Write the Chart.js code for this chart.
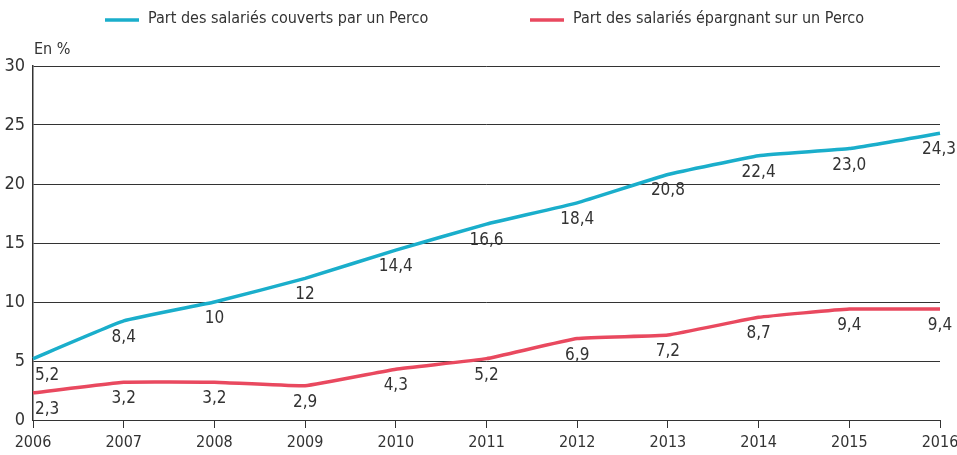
<!DOCTYPE html>
<html>

<head>
    <meta charset="UTF-8">
    <title>Perco</title>
    <script src="https://cdn.jsdelivr.net/npm/chart.js@4.4.1/dist/chart.umd.min.js"></script>
    <style>
        html, body {
            margin: 0;
            padding: 0;
            background: #fff;
        }

        #wrap {
            width: 957px;
            height: 455px;
        }
    </style>
</head>

<body>
    <div id="wrap"><canvas id="lineChart"></canvas></div>

    <script>
        const years = ["2006", "2007", "2008", "2009", "2010", "2011", "2012", "2013", "2014", "2015", "2016"];
        // value labels as printed; the plotted values are read from them
        const couvertsText = ["5,2", "8,4", "10", "12", "14,4", "16,6", "18,4", "20,8", "22,4", "23,0", "24,3"];
        const epargnantText = ["2,3", "3,2", "3,2", "2,9", "4,3", "5,2", "6,9", "7,2", "8,7", "9,4", "9,4"];
        const seriesNames = ["Part des salariés couverts par un Perco", "Part des salariés épargnant sur un Perco"];
        const yTicks = [0, 5, 10, 15, 20, 25, 30];

        const toNum = t => parseFloat(t.replace(",", "."));
        const couverts = couvertsText.map(toNum);
        const epargnant = epargnantText.map(toNum);

        const FONT = "'Liberation Sans Narrow', 'DejaVu Sans Condensed', 'Arial Narrow', sans-serif";
        const INK = "#333";
        const BLUE = "#1aaecb";
        const RED = "#e9495f";

        Chart.defaults.font.family = FONT;
        Chart.defaults.color = INK;

        // legend + "En %" + value labels
        const decor = {
            id: "decor",
            afterDraw(chart) {
                const ctx = chart.ctx;
                const area = chart.chartArea;
                ctx.save();
                ctx.font = "16px " + FONT;
                ctx.fillStyle = INK;
                ctx.textBaseline = "middle";
                const legendX = [105, 530];
                const colors = [BLUE, RED];
                legendX.forEach((x, i) => {
                    ctx.strokeStyle = colors[i];
                    ctx.lineWidth = 3.5;
                    ctx.beginPath();
                    ctx.moveTo(x, 20);
                    ctx.lineTo(x + 34, 20);
                    ctx.stroke();
                    ctx.textAlign = "left";
                    ctx.fillText(seriesNames[i], x + 43, 19);
                });
                ctx.font = "16px " + FONT;
                ctx.fillText("En %", area.left + 1, 50);

                ctx.font = "17px " + FONT;
                ctx.textBaseline = "top";
                ctx.textAlign = "center";
                const texts = [couvertsText, epargnantText];
                chart.data.datasets.forEach((ds, d) => {
                    const meta = chart.getDatasetMeta(d);
                    meta.data.forEach((pt, i) => {
                        const t = texts[d][i];
                        const half = ctx.measureText(t).width / 2;
                        // first label sits right of the axis, last one kept inside the canvas
                        let x = i === 0 ? pt.x + 2 + half : pt.x;
                        x = Math.min(x, chart.width - half - 1);
                        ctx.fillText(t, x, pt.y + 8);
                    });
                });
                ctx.restore();
            }
        };

        new Chart(document.getElementById("lineChart").getContext("2d"), {
            type: "line",
            data: {
                labels: years,
                datasets: [
                    {
                        label: seriesNames[0],
                        data: couverts,
                        borderColor: BLUE,
                        borderWidth: 3.5,
                        pointRadius: 0,
                        tension: 0.1,
                        fill: false
                    },
                    {
                        label: seriesNames[1],
                        data: epargnant,
                        borderColor: RED,
                        borderWidth: 3.5,
                        pointRadius: 0,
                        tension: 0.1,
                        fill: false
                    }
                ]
            },
            options: {
                responsive: true,
                maintainAspectRatio: false,
                animation: false,
                layout: { padding: { top: 66, right: 17, left: 0, bottom: 0 } },
                plugins: {
                    legend: { display: false },
                    tooltip: { enabled: false }
                },
                scales: {
                    x: {
                        offset: false,
                        grid: {
                            drawOnChartArea: false,
                            drawTicks: true,
                            tickLength: 8,
                            color: INK
                        },
                        border: { color: INK, width: 1 },
                        ticks: {
                            font: { size: 16 },
                            color: INK,
                            maxRotation: 0,
                            padding: 5
                        },
                        afterFit(scale) {
                            scale.height = 35;
                            scale.paddingLeft = 0;
                            scale.paddingRight = 0;
                        }
                    },
                    y: {
                        min: 0,
                        max: 30,
                        afterBuildTicks(scale) {
                            scale.ticks = yTicks.map(v => ({ value: v }));
                        },
                        grid: {
                            color: INK,
                            lineWidth: 1,
                            drawTicks: false
                        },
                        border: { color: INK, width: 1.5 },
                        ticks: {
                            font: { size: 18 },
                            color: INK,
                            padding: 8
                        },
                        afterFit(scale) { scale.width = 33; }
                    }
                }
            },
            plugins: [decor]
        });
    </script>
</body>

</html>
